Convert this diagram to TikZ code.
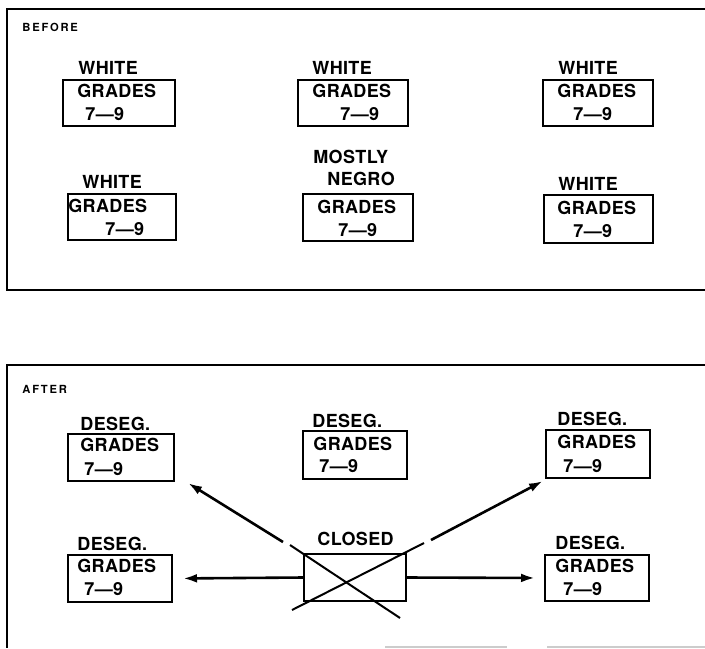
\documentclass[tikz,border=0pt]{standalone}
\usepackage{fontspec}
\setmainfont{TeX Gyre Heros}
\usetikzlibrary{arrows.meta,calc}

\begin{document}
\begin{tikzpicture}[x=0.5pt,y=-0.5pt,
  >={Latex[length=7pt,width=4.4pt]},
  box/.style={draw,line width=1pt,anchor=north west,inner sep=0pt},
  txt/.style={anchor=base west,inner sep=0pt,
    font=\fontsize{9}{10}\selectfont\bfseries\addfontfeature{LetterSpace=2}},
  tag/.style={anchor=base west,inner sep=0pt,
    font=\fontsize{5.6}{6}\selectfont\bfseries\addfontfeature{LetterSpace=16}},
  arr/.style={->,line width=1.3pt},
  xl/.style={line width=1pt}]
 \useasboundingbox (0,0) rectangle (705,648);
 % before
 \draw[line width=1pt] (705,9) -- (7,9) -- (7,290) -- (705,290);
 \node[tag] (before) at (22,32) {BEFORE};
 \node[box,minimum width=56pt,minimum height=23pt] (b1) at (62,79) {};
 \node[txt] (b1w) at (78,74) {WHITE};
 \node[txt] (b1g) at (77,97) {GRADES};
 \node[txt] (b1n) at (85,120) {7---9};
 \node[box,minimum width=55pt,minimum height=23pt] (b2) at (297,79) {};
 \node[txt] (b2w) at (312,74) {WHITE};
 \node[txt] (b2g) at (312,97) {GRADES};
 \node[txt] (b2n) at (340,120) {7---9};
 \node[box,minimum width=55pt,minimum height=23pt] (b3) at (542,79) {};
 \node[txt] (b3w) at (558,74) {WHITE};
 \node[txt] (b3g) at (557,97) {GRADES};
 \node[txt] (b3n) at (573,120) {7---9};
 \node[box,minimum width=54pt,minimum height=23pt] (b4) at (67,193) {};
 \node[txt] (b4w) at (82,188) {WHITE};
 \node[txt] (b4g) at (68,212) {GRADES};
 \node[txt] (b4n) at (105,235) {7---9};
 \node[box,minimum width=55pt,minimum height=23.5pt] (b5) at (302,193) {};
 \node[txt] (b5m) at (313,163) {MOSTLY};
 \node[txt] (b5r) at (327,185) {NEGRO};
 \node[txt] (b5g) at (317,213) {GRADES};
 \node[txt] (b5n) at (338,236) {7---9};
 \node[box,minimum width=54.5pt,minimum height=24pt] (b6) at (543,194) {};
 \node[txt] (b6w) at (558,190) {WHITE};
 \node[txt] (b6g) at (557,214) {GRADES};
 \node[txt] (b6n) at (573,237) {7---9};
 % after
 \draw[line width=1pt] (705,365) -- (7,365) -- (7,648);
 \draw[gray!40,line width=0.6pt] (385,647) -- (507,647) (547,647) -- (705,647);
 \node[tag] (after) at (22,393) {AFTER};
 \node[box,minimum width=53pt,minimum height=23.5pt] (a1) at (67,433) {};
 \node[txt] (a1d) at (80,430) {DESEG.};
 \node[txt] (a1g) at (80,451) {GRADES};
 \node[txt] (a1n) at (84,475) {7---9};
 \node[box,minimum width=52pt,minimum height=24pt] (a2) at (302,430) {};
 \node[txt] (a2d) at (312,427) {DESEG.};
 \node[txt] (a2g) at (313,450) {GRADES};
 \node[txt] (a2n) at (319,472) {7---9};
 \node[box,minimum width=52pt,minimum height=24pt] (a3) at (545,429) {};
 \node[txt] (a3d) at (557,425) {DESEG.};
 \node[txt] (a3g) at (557,448) {GRADES};
 \node[txt] (a3n) at (563,472) {7---9};
 \node[box,minimum width=52pt,minimum height=23.5pt] (a4) at (67,554) {};
 \node[txt] (a4d) at (77,550) {DESEG.};
 \node[txt] (a4g) at (77,572) {GRADES};
 \node[txt] (a4n) at (84,595) {7---9};
 \node[box,minimum width=52pt,minimum height=23pt] (a5) at (544,554) {};
 \node[txt] (a5d) at (555,549) {DESEG.};
 \node[txt] (a5g) at (555,572) {GRADES};
 \node[txt] (a5n) at (563,595) {7---9};
 \node[box,minimum width=51pt,minimum height=23.5pt] (closed) at (303,553) {};
 \node[txt] (closedl) at (317,545) {CLOSED};
 % cross and arrows
 \draw[xl] (290,545) -- (400,618);
 \draw[xl] (292,610) -- (424,543);
 \coordinate (ctl) at (283,542);
 \coordinate (ctr) at (431,540);
 \draw[arr] (ctl) -- ($(a1.south east)+(13,1)$);
 \draw[arr] (ctr) -- ($(a3.south west)+(-2,2)$);
 \draw[arr] (closed.west) -- (a4.east) [shorten >=5pt];
 \draw[arr] (closed.east) -- (a5.west) [shorten >=4.5pt];
\end{tikzpicture}
\end{document}
